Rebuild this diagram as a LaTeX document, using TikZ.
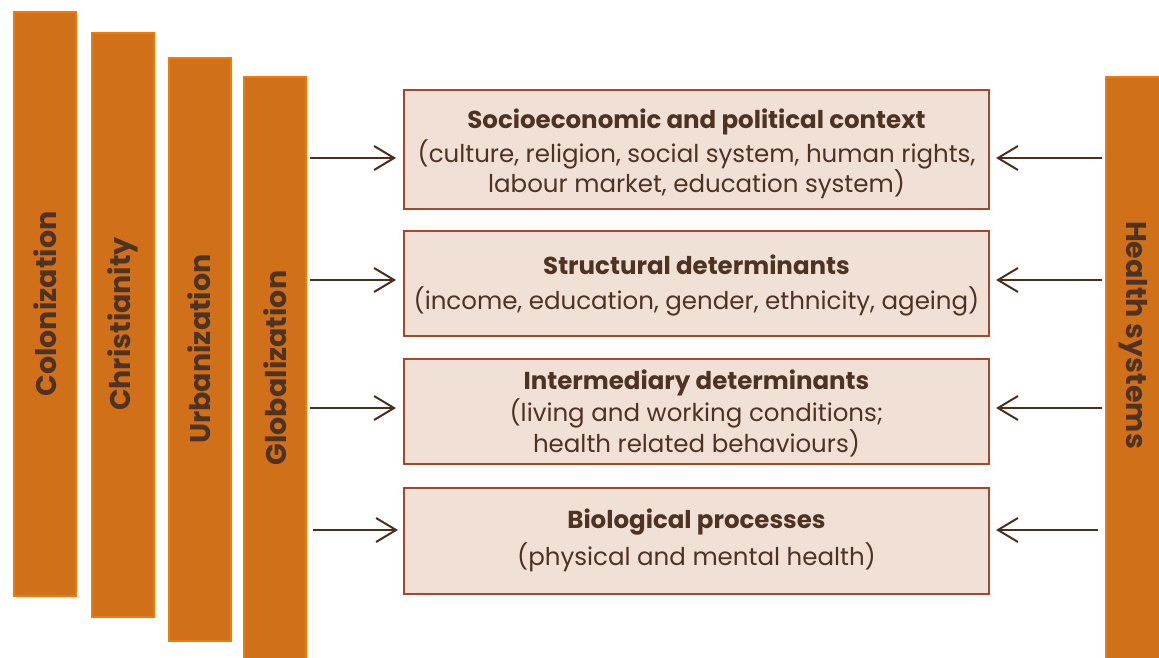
\documentclass[tikz,border=0pt]{standalone}
\usepackage{fontspec}
\setmainfont{Poppins}
\usetikzlibrary{arrows.meta}
\definecolor{barfill}{HTML}{D07018}
\definecolor{barline}{HTML}{EE7A0A}
\definecolor{boxfill}{HTML}{F0E0D6}
\definecolor{boxline}{HTML}{A3482C}
\definecolor{txtc}{HTML}{4E3222}
\definecolor{arrc}{HTML}{4A2E1E}
\tikzset{
  bar/.style={draw=barline, fill=barfill, line width=2pt, minimum width=62pt, inner sep=0pt},
  bartext/.style={text=txtc, font=\bfseries\fontsize{28.5}{30}\selectfont, inner sep=0pt},
  infobox/.style={draw=boxline, fill=boxfill, line width=2pt, minimum width=585pt, inner sep=0pt},
  boxtext/.style={text=txtc, align=center, inner sep=0pt, font=\fontsize{24.5}{27}\selectfont},
  arr/.style={draw=arrc, line width=2pt, -{Straight Barb[length=20pt,width=24pt,line width=2pt]}}
}
\begin{document}
\begin{tikzpicture}[x=1pt,y=-1pt]
\useasboundingbox (0,0) rectangle (1159,658);
% bars
\node[bar, minimum height=584pt] (colon) at (45,304) {};
\node[bar, minimum height=584pt] (christ) at (122.5,325) {};
\node[bar, minimum height=583pt] (urban) at (199.5,349.5) {};
\node[bar, minimum height=587pt] (glob) at (275,370.5) {};
\node[bar, minimum width=55pt, minimum height=587pt] (health) at (1133.5,370.5) {};
\node[bartext, rotate=90] (colont) at (45,304) {Colonization};
\node[bartext, rotate=90] (christt) at (122.5,324) {Christianity};
\node[bartext, rotate=90] (urbant) at (199.5,349) {Urbanization};
\node[bartext, rotate=90] (globt) at (275,368) {Globalization};
\node[bartext, rotate=-90] (healtht) at (1133,335) {Health systems};
% boxes
\node[infobox, minimum height=118pt] (b1) at (696.5,149.5) {};
\node[infobox, minimum height=105pt] (b2) at (696.5,283) {};
\node[infobox, minimum height=105pt] (b3) at (696.5,411) {};
\node[infobox, minimum height=106pt] (b4) at (696.5,540.5) {};
\node[boxtext] (b1t) at (696.5,154)
  {{\bfseries Socioeconomic and political context}\\[3pt](culture, religion, social system, human rights,\\labour market, education system)};
\node[boxtext] (b2t) at (696.5,285)
  {{\bfseries Structural determinants}\\[8pt](income, education, gender, ethnicity, ageing)};
\node[boxtext] (b3t) at (696.5,413.5)
  {{\bfseries Intermediary determinants}\\[2pt](living and working conditions;\\health related behaviours)};
\node[boxtext] (b4t) at (696.5,540.5)
  {{\bfseries Biological processes}\\[6pt](physical and mental health)};
% arrow anchors
\coordinate (l1) at (310,158);
\coordinate (l2) at (310,280);
\coordinate (l3) at (310,408);
\coordinate (l4) at (313,530);
\coordinate (r1) at (1102,158);
\coordinate (r2) at (1102,280);
\coordinate (r3) at (1102,408);
\coordinate (r4) at (1098,530);
\draw[arr, shorten >=7pt] (l1) -- (l1 -| b1.west);
\draw[arr, shorten >=7pt] (l2) -- (l2 -| b2.west);
\draw[arr, shorten >=7pt] (l3) -- (l3 -| b3.west);
\draw[arr, shorten >=5pt] (l4) -- (l4 -| b4.west);
\draw[arr, shorten >=6pt] (r1) -- (r1 -| b1.east);
\draw[arr, shorten >=6pt] (r2) -- (r2 -| b2.east);
\draw[arr, shorten >=6pt] (r3) -- (r3 -| b3.east);
\draw[arr, shorten >=6pt] (r4) -- (r4 -| b4.east);
\end{tikzpicture}
\end{document}
